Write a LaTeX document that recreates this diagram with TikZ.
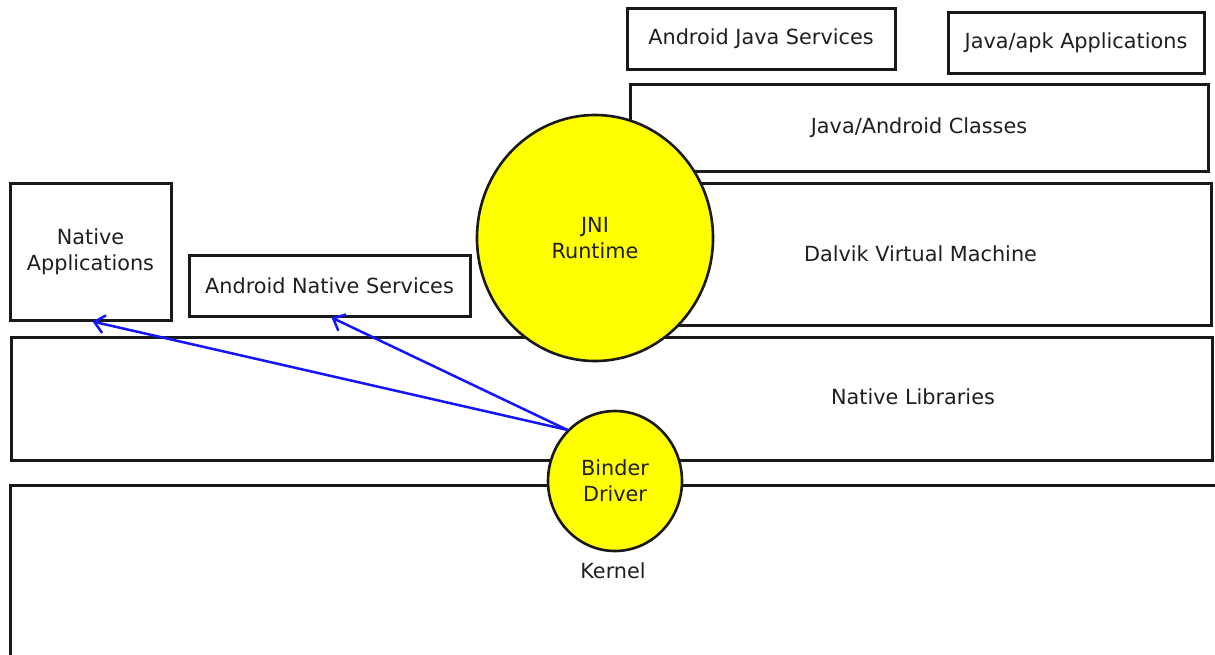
\documentclass[tikz,border=0pt]{standalone}
\usepackage{fontspec}
\setmainfont{DejaVu Sans}
\usetikzlibrary{arrows.meta,shapes.geometric}
\definecolor{ylw}{RGB}{255,255,0}
\definecolor{lnk}{RGB}{20,20,255}
\begin{document}
\begin{tikzpicture}[x=0.5pt,y=-0.5pt,
  every node/.style={font=\fontsize{10.4pt}{13pt}\selectfont, text=black!88},
  box/.style={rectangle, draw=black!90, line width=1.5pt, inner sep=0pt, fill=white, align=center},
  blob/.style={ellipse, draw=black!90, line width=1.3pt, fill=ylw, inner sep=0pt, align=center},
  link/.style={draw=lnk, line width=1.25pt, -{Straight Barb[length=5pt,width=9pt,line width=1.25pt]}}]
\useasboundingbox (0,0) rectangle (1215,654);
\clip (0,0) rectangle (1215,654);
% kernel
\draw[line width=1.5pt, draw=black!90] (10,485) rectangle (1240,680);
\node (kernel) at (613,571) {Kernel};
% native libraries
\node[box, minimum width=600.5pt, minimum height=61.5pt] (nl) at (611.5,398.5) {};
\node (nltext) at (913,397) {Native Libraries};
% top boxes
\node[box, minimum width=134pt, minimum height=30.5pt] (ajs) at (761,38.5) {Android Java Services};
\node[box, minimum width=128pt, minimum height=30.5pt] (apk) at (1076,42.5) {Java/apk Applications};
\node[box, minimum width=289pt, minimum height=43.5pt] (jac) at (919,127.5) {Java/Android Classes};
\node[box, minimum width=290.5pt, minimum height=71pt] (dvm) at (920.5,254) {Dalvik Virtual Machine};
\node[box, minimum width=80.5pt, minimum height=68.5pt] (na) at (90.5,251.5) {Native\\Applications};
\node[box, minimum width=140.5pt, minimum height=30.5pt] (ans) at (329.5,285.5) {Android Native Services};
% JNI
\node[blob, minimum width=118pt, minimum height=123pt] (jni) at (595,238) {JNI\\Runtime};
% binder
\node[blob, minimum width=67pt, minimum height=70pt] (bd) at (615,481) {Binder\\Driver};
% arrows
\draw[link] (bd.133) -- ([xshift=1pt]na.south);
\draw[link] (bd.133) -- ([xshift=1pt]ans.south);
\end{tikzpicture}
\end{document}
